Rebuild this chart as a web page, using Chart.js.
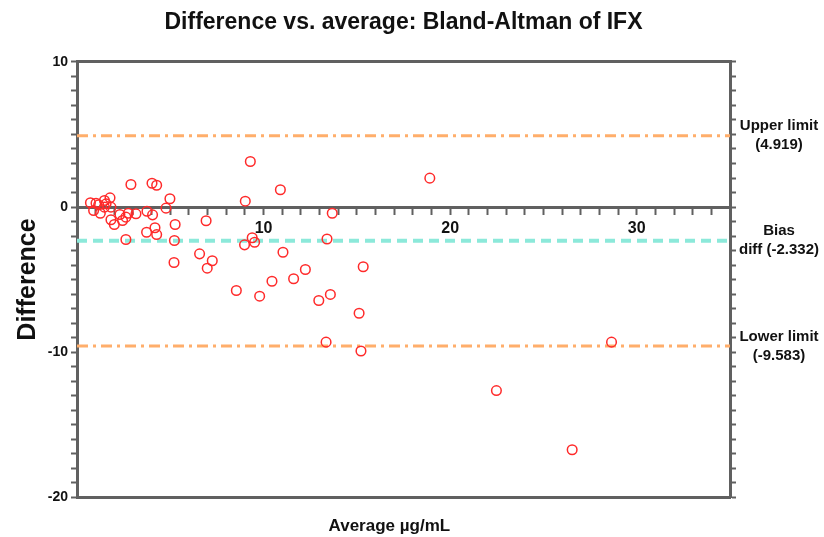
<!DOCTYPE html>
<html><head><meta charset="utf-8">
<script src="https://cdn.jsdelivr.net/npm/chart.js@4/dist/chart.umd.min.js"></script>
<style>html,body{margin:0;padding:0;background:#fff}#wrap{width:824px;height:537px;position:relative}</style>
</head><body><div id="wrap"><canvas id="c"></canvas></div>
<script>
const averages = [0.72,1.02,0.89,1.25,1.47,1.77,1.56,1.16,1.82,1.47,1.82,2.00,2.30,2.44,2.62,2.75,3.16,2.89,3.75,4.05,4.02,4.27,4.77,4.98,3.73,4.18,4.27,2.62,5.26,5.22,6.92,6.57,5.20,7.25,6.98,9.02,9.29,8.98,9.39,9.52,11.04,8.54,9.79,10.45,10.90,13.68,13.40,12.24,11.61,15.34,13.58,12.96,15.12,13.35,15.22,18.91,22.48,26.54,28.65];
const differences = [0.29,0.26,-0.24,-0.43,0.45,0.63,0.22,0.15,-0.01,-0.01,-0.88,-1.21,-0.52,-0.93,-0.70,-0.43,-0.47,1.55,-0.29,-0.54,1.64,1.50,-0.08,0.57,-1.74,-1.43,-1.90,-2.24,-1.21,-2.31,-0.95,-3.23,-3.83,-3.71,-4.22,0.40,3.14,-2.61,-2.12,-2.43,-3.12,-5.76,-6.15,-5.12,1.19,-0.43,-2.21,-4.31,-4.95,-4.12,-6.03,-6.45,-7.33,-9.32,-9.93,1.99,-12.66,-16.74,-9.32];
const upperLimit = 4.919;
const biasValue = -2.332;
const lowerLimit = -9.583;
const limitValues = [upperLimit, biasValue, lowerLimit];
const limitLabels = [['Upper limit','(4.919)'], ['Bias','diff (-2.332)'], ['Lower limit','(-9.583)']];
const xTickLabels = [10, 20, 30];
const yTickLabels = [10, 0, -10, -20];
const xRange = [0, 35];
const yRange = [-20, 10];

const FONT = "'Liberation Sans', Arial, Helvetica, sans-serif";
const AXIS = '#606060';
const points = averages.map((a, i) => ({x: a, y: differences[i]}));
const hline = v => [{x: xRange[0], y: v}, {x: xRange[1], y: v}];

const intTicks = (lo, hi) => { const t = []; for (let v = lo; v <= hi; v++) t.push({value: v}); return t; };

new Chart(document.getElementById('c'), {
  type: 'scatter',
  data: {
    datasets: [
      {data: points, order: 0, pointStyle: 'circle', pointRadius: 4.8, pointBorderWidth: 1.5,
       borderColor: '#FF2A2A', backgroundColor: 'rgba(0,0,0,0)', pointHoverRadius: 4.8},
      {data: hline(upperLimit), order: 1, showLine: true, pointRadius: 0, borderColor: '#FFAE6B', borderWidth: 3, borderDash: [11, 5, 3, 5]},
      {data: hline(biasValue), order: 1, showLine: true, pointRadius: 0, borderColor: '#8CE9DA', borderWidth: 4, borderDash: [10, 6]},
      {data: hline(lowerLimit), order: 1, showLine: true, pointRadius: 0, borderColor: '#FFAE6B', borderWidth: 3, borderDash: [11, 5, 3, 5]}
    ]
  },
  options: {
    responsive: true, maintainAspectRatio: false, devicePixelRatio: 1, animation: false,
    layout: {padding: 0},
    plugins: {
      legend: {display: false}, tooltip: {enabled: false},
      title: {display: true, fullSize: false, text: 'Difference vs. average: Bland-Altman of IFX',
              color: '#111', font: {family: FONT, size: 23, weight: 'bold', lineHeight: 1.2},
              padding: {top: 9, bottom: 0}}
    },
    scales: {
      x: {
        type: 'linear', axis: 'x', position: {y: 0}, min: xRange[0], max: xRange[1],
        grid: {drawOnChartArea: false, drawTicks: true, tickLength: 6, tickWidth: 2, tickColor: AXIS},
        border: {display: true, color: AXIS, width: 3},
        ticks: {stepSize: 1, autoSkip: false, maxRotation: 0, padding: 6, color: '#111',
                font: {family: FONT, size: 16, weight: 'bold'},
                callback: v => xTickLabels.includes(v) ? String(v) : ''}
      },
      xTop: {
        type: 'linear', axis: 'x', position: 'top', min: xRange[0], max: xRange[1],
        grid: {drawOnChartArea: false, drawTicks: false},
        border: {display: true, color: AXIS, width: 3},
        ticks: {display: false},
        afterFit: s => { s.height = 25.4; }
      },
      xBottom: {
        type: 'linear', axis: 'x', position: 'bottom', min: xRange[0], max: xRange[1],
        grid: {drawOnChartArea: false, drawTicks: false},
        border: {display: true, color: AXIS, width: 3},
        ticks: {display: false},
        title: {display: true, text: 'Average µg/mL\u00A0\u00A0\u00A0\u00A0\u00A0\u00A0', color: '#111',
                font: {family: FONT, size: 17, weight: 'bold', lineHeight: 1.2}, padding: {top: 0, bottom: 0}},
        afterFit: s => { s.height = 40; }
      },
      y: {
        type: 'linear', axis: 'y', position: 'left', min: yRange[0], max: yRange[1],
        grid: {drawOnChartArea: false, drawTicks: true, tickLength: 6, tickWidth: 2, tickColor: AXIS},
        border: {display: true, color: AXIS, width: 3},
        ticks: {autoSkip: false, padding: 3, color: '#111',
                font: {family: FONT, size: 14, weight: 'bold'},
                callback: v => yTickLabels.includes(v) ? String(v) : ''},
        afterBuildTicks: s => { s.ticks = intTicks(yRange[0], yRange[1]); },
        title: {display: true, text: 'Difference', color: '#111',
                font: {family: FONT, size: 25, weight: 'bold', lineHeight: 1.2}, padding: {top: 13, bottom: 0}},
        afterFit: s => { s.width = 77; }
      },
      y2: {
        type: 'linear', axis: 'y', position: 'right', min: yRange[0], max: yRange[1],
        grid: {drawOnChartArea: false, drawTicks: true, tickLength: 6, tickWidth: 2,
               tickColor: c => (c.tick && Number.isInteger(c.tick.value)) ? AXIS : 'rgba(0,0,0,0)'},
        border: {display: true, color: AXIS, width: 3},
        ticks: {autoSkip: false, padding: 3, color: '#111', crossAlign: 'center',
                font: {family: FONT, size: 15, weight: 'bold', lineHeight: 1.27},
                callback: v => { const i = limitValues.indexOf(v); return i >= 0 ? limitLabels[i] : ''; }},
        afterBuildTicks: s => {
          const t = intTicks(yRange[0], yRange[1]).concat(limitValues.map(v => ({value: v})));
          t.sort((a, b) => a.value - b.value);
          s.ticks = t;
        },
        afterFit: s => { s.width = 94; }
      }
    }
  }
});
</script>
</body></html>
